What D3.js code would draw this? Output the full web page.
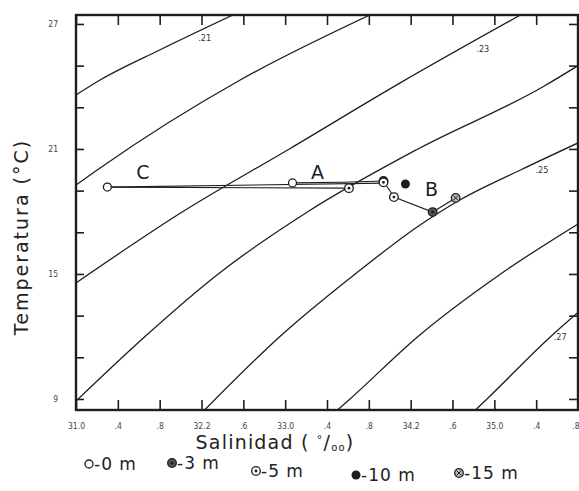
<!DOCTYPE html>
<html>
<head>
<meta charset="utf-8">
<script src="https://cdn.jsdelivr.net/npm/d3@7"></script>
<style>
  body { margin: 0; background: #fff; }
  svg { display: block; }
</style>
</head>
<body>
<svg id="chart" width="579" height="491"></svg>
<script>
// Axis ticks and labels
const salinityTicks = [31.0, 31.4, 31.8, 32.2, 32.6, 33.0, 33.4, 33.8, 34.2, 34.6, 35.0, 35.4, 35.8];
const salinityTickLabels = ["31.0", ".4", ".8", "32.2", ".6", "33.0", ".4", ".8", "34.2", ".6", "35.0", ".4", ".8"];
const temperatureTicks = [9, 11, 13, 15, 17, 19, 21, 23, 25, 27];
const temperatureLabelled = [9, 15, 21, 27];

// Sigma-t isopleths, [salinity, temperature] pairs along each curve
const sigma21 = [[31.0, 23.59], [31.23, 24.31], [31.80, 25.75], [32.50, 27.43]];
const sigma22 = [[31.0, 19.27], [31.23, 20.09], [32.57, 24.31], [33.81, 27.43]];
const sigma23 = [[31.0, 14.57], [32.03, 18.02], [33.04, 21.0], [34.10, 24.17], [35.25, 27.43]];
const sigma24 = [[31.0, 8.9], [31.66, 12.0], [32.36, 15.0], [33.22, 18.0], [34.27, 21.0], [35.47, 24.0], [35.80, 25.0]];
const sigma25 = [[32.23, 8.47], [32.95, 12.0], [33.67, 15.0], [34.29, 17.35], [34.67, 18.55], [35.25, 19.99], [35.80, 21.29]];
const sigma26 = [[33.50, 8.47], [33.62, 9.0], [34.27, 12.0], [35.06, 15.0], [35.80, 17.4]];
const sigma27 = [[34.82, 8.47], [34.93, 9.0], [35.54, 12.0], [35.80, 13.15]];
const isopleths = [sigma21, sigma22, sigma23, sigma24, sigma25, sigma26, sigma27];

// Isopleth labels: value and anchor [salinity, temperature]
const isoLabelText = [".21", ".23", ".25", ".27"];
const isoLabelPos = [[32.23, 26.18], [34.89, 25.66], [35.455, 19.85], [35.63, 11.83]];

// Station profiles (lines joining successive depths)
const profileC = [[31.30, 19.17], [33.61, 19.12]];
const profileC2 = [[31.30, 19.17], [33.94, 19.36]];
const profileA = [[33.07, 19.37], [33.55, 19.40], [33.94, 19.46]];
const profileB = [[33.94, 19.46], [34.04, 18.69], [34.41, 17.97], [34.63, 18.65]];

// Observations: salinity, temperature, depth (m)
const obsSalinity = [31.30, 33.07, 33.61, 33.94, 33.94, 34.15, 34.04, 34.41, 34.63];
const obsTemperature = [19.17, 19.37, 19.12, 19.46, 19.40, 19.32, 18.69, 17.97, 18.65];
const obsDepth = [0, 0, 5, 3, 5, 10, 5, 3, 15];

// Station names and their anchors
const stationNames = ["C", "A", "B"];
const stationPos = [[31.64, 19.55], [33.31, 19.55], [34.40, 18.72]];

// Legend
const depthLevels = [0, 3, 5, 10, 15];
const depthLabels = ["-0 m", "-3 m", "-5 m", "-10 m", "-15 m"];

const svg = d3.select("#chart");
const ink = "#1e1e1e";

const x = d3.scaleLinear().domain([31.0, 35.8]).range([76, 578]);
const y = d3.scaleLinear().domain([8.47, 27.43]).range([410, 15]);

const [x0, x1] = x.range();
const [y0, y1] = [y(27.43), y(8.47)];

svg.append("defs").append("clipPath").attr("id", "plotClip")
  .append("rect").attr("x", x0).attr("y", y0).attr("width", x1 - x0).attr("height", y1 - y0);

// Isopleths
const line = d3.line().x(d => x(d[0])).y(d => y(d[1])).curve(d3.curveMonotoneX);
svg.append("g").attr("clip-path", "url(#plotClip)")
  .selectAll("path").data(isopleths).join("path")
  .attr("d", line).attr("fill", "none").attr("stroke", ink).attr("stroke-width", 1.3);

svg.append("g").selectAll("text").data(isoLabelText).join("text")
  .attr("x", (d, i) => x(isoLabelPos[i][0])).attr("y", (d, i) => y(isoLabelPos[i][1]))
  .attr("font-family", "DejaVu Sans Condensed, DejaVu Sans, sans-serif")
  .attr("font-size", 9).attr("fill", "#333").attr("text-anchor", "middle")
  .text(d => d);

// Frame and ticks
const axisG = svg.append("g");
axisG.append("rect").attr("x", x0).attr("y", y0).attr("width", x1 - x0).attr("height", y1 - y0)
  .attr("fill", "none").attr("stroke", ink).attr("stroke-width", 2.4);

const bottomAxis = d3.axisBottom(x).tickValues(salinityTicks).tickSize(-10)
  .tickFormat((d, i) => salinityTickLabels[i]).tickPadding(13);
const gb = axisG.append("g").attr("transform", `translate(0,${y1})`).call(bottomAxis);
const topAxis = d3.axisTop(x).tickValues(salinityTicks).tickSize(-10).tickFormat("");
const gt = axisG.append("g").attr("transform", `translate(0,${y0})`).call(topAxis);
const leftAxis = d3.axisLeft(y).tickValues(temperatureTicks).tickSize(-8)
  .tickFormat(d => temperatureLabelled.includes(d) ? String(d) : "").tickPadding(18);
const gl = axisG.append("g").attr("transform", `translate(${x0},0)`).call(leftAxis);
const rightAxis = d3.axisRight(y).tickValues(temperatureTicks).tickSize(-9).tickFormat("");
const gr = axisG.append("g").attr("transform", `translate(${x1},0)`).call(rightAxis);

[gb, gt, gl, gr].forEach(g => {
  g.select(".domain").remove();
  g.selectAll(".tick line").attr("stroke", ink).attr("stroke-width", 1.6);
  g.selectAll(".tick text").attr("fill", "#444")
    .attr("font-family", "DejaVu Sans Condensed, DejaVu Sans, sans-serif").attr("font-size", 8.5);
});
// last salinity label sits against the right edge
gb.selectAll(".tick text").filter((d, i, n) => i === n.length - 1)
  .attr("text-anchor", "end").attr("x", 1);

// Station profiles
const pline = d3.line().x(d => x(d[0])).y(d => y(d[1]));
svg.append("g").selectAll("path").data([profileC, profileC2, profileA, profileB]).join("path")
  .attr("d", pline).attr("fill", "none").attr("stroke", ink).attr("stroke-width", 1.1);

// Depth markers
function drawMarker(g, depth) {
  if (depth === 0) {
    g.append("circle").attr("r", 4).attr("fill", "#fff").attr("stroke", ink).attr("stroke-width", 1.3);
  } else if (depth === 3) {
    g.append("circle").attr("r", 4.3).attr("fill", "#555").attr("stroke", ink).attr("stroke-width", 1.3);
    g.append("circle").attr("r", 1.5).attr("fill", ink);
  } else if (depth === 5) {
    g.append("circle").attr("r", 4.3).attr("fill", "#fff").attr("stroke", ink).attr("stroke-width", 1.3);
    g.append("circle").attr("r", 1.4).attr("fill", ink);
  } else if (depth === 10) {
    g.append("circle").attr("r", 4.5).attr("fill", ink);
  } else {
    g.append("circle").attr("r", 4.3).attr("fill", "#bbb").attr("stroke", ink).attr("stroke-width", 1.3);
    g.append("path").attr("d", "M-2.5,-2.5L2.5,2.5M-2.5,2.5L2.5,-2.5").attr("stroke", ink).attr("stroke-width", 1);
  }
}

const mg = svg.append("g");
obsDepth.forEach((d, i) => {
  const g = mg.append("g").attr("transform", `translate(${x(obsSalinity[i])},${y(obsTemperature[i])})`);
  drawMarker(g, d);
});

svg.append("g").selectAll("text").data(stationNames).join("text")
  .attr("x", (d, i) => x(stationPos[i][0])).attr("y", (d, i) => y(stationPos[i][1]))
  .attr("font-family", "DejaVu Sans, sans-serif").attr("font-size", 19).attr("fill", ink)
  .attr("text-anchor", "middle").text(d => d);

// Axis titles
const titleFont = "DejaVu Sans, sans-serif";
const xt = svg.append("text").attr("x", 275).attr("y", 449).attr("text-anchor", "middle")
  .attr("font-family", titleFont).attr("font-size", 19).attr("letter-spacing", 1.2).attr("fill", "#222");
xt.append("tspan").text("Salinidad ( ");
xt.append("tspan").attr("font-size", 11).attr("dy", -6).text("°");
xt.append("tspan").attr("dy", 6).text("/");
xt.append("tspan").attr("font-size", 10).attr("dy", 2).text("oo");
xt.append("tspan").attr("dy", -2).text(")");

svg.append("text").attr("transform", "translate(28,237) rotate(-90)").attr("text-anchor", "middle")
  .attr("font-family", titleFont).attr("font-size", 19).attr("letter-spacing", 2).attr("fill", "#222")
  .text("Temperatura (°C)");

// Legend
const legendX = [89, 172, 256, 356, 459];
const legendY = [464, 463, 471, 475, 473];
const lg = svg.append("g");
depthLevels.forEach((d, i) => {
  const g = lg.append("g").attr("transform", `translate(${legendX[i]},${legendY[i]})`);
  drawMarker(g.append("g"), d);
  g.append("text").attr("x", 5).attr("y", 6).attr("font-family", titleFont)
    .attr("font-size", 17).attr("letter-spacing", 1).attr("fill", "#222").text(depthLabels[i]);
});
</script>
</body>
</html>
